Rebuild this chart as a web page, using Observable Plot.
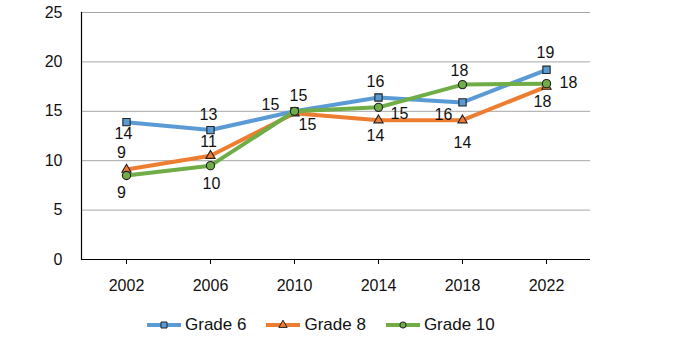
<!DOCTYPE html>
<html>
<head>
<meta charset="utf-8">
<script src="https://cdn.jsdelivr.net/npm/d3@7"></script>
<script src="https://cdn.jsdelivr.net/npm/@observablehq/plot@0.6"></script>
<style>
  body { margin: 0; background: #fff; font-family: "Liberation Sans", Arial, sans-serif; }
  #legend { display: flex; align-items: center; padding-left: 147px; margin-top: 14px; height: 22px; font-size: 17px; color: #111; }
  .item { display: flex; align-items: center; margin-right: 20px; }
  .item svg { margin-right: 4px; }
</style>
</head>
<body>
<div id="chart"></div>
<div id="legend"></div>
<script>
const years = ["2002", "2006", "2010", "2014", "2018", "2022"];
const seriesNames = ["Grade 6", "Grade 8", "Grade 10"];
const grade6 = [13.9, 13.1, 15.0, 16.4, 15.9, 19.2];
const grade8 = [9.1, 10.5, 14.8, 14.1, 14.1, 17.5];
const grade10 = [8.5, 9.5, 15.0, 15.4, 17.7, 17.8];
const labels6 = [14, 13, 15, 16, 16, 19];
const labels8 = [9, 11, 15, 14, 14, 18];
const labels10 = [9, 10, 15, 15, 18, 18];
const yTicks = [0, 5, 10, 15, 20, 25];

// label placement (style config, pixel offsets)
const offsets6 = [[-3, 12], [-2, -15], [-24, -6], [-3, -16], [-19, 12], [-1, -17]];
const offsets8 = [[-5, -17], [-2, -14], [13, 12], [-3, 16], [0, 23], [-4, 15]];
const offsets10 = [[-5, 17], [1, 18], [4, -15], [21, 7], [-3, -14], [22, -1]];

const colors = ["#5B9BD5", "#ED7D31", "#70AD47"];
const symbols = ["square", "triangle", "circle"];
const radii = [4.1, 3.4, 4.1];

const series = [
  {name: seriesNames[0], values: grade6, labels: labels6, offsets: offsets6},
  {name: seriesNames[1], values: grade8, labels: labels8, offsets: offsets8},
  {name: seriesNames[2], values: grade10, labels: labels10, offsets: offsets10}
];

const marks = [
  Plot.gridY(yTicks.filter(d => d > 0), {stroke: "#a6a6a6", strokeOpacity: 1, strokeWidth: 1}),
  Plot.ruleY([0], {stroke: "#000", strokeWidth: 1.2}),
  Plot.frame({anchor: "left", stroke: "#000", strokeWidth: 1.2}),
  Plot.axisX({tickSize: 5, tickPadding: 15, fontSize: 16, stroke: "#000", label: null}),
  Plot.axisY(yTicks, {tickSize: 0, tickPadding: 19, fontSize: 16, label: null})
];

series.forEach((s, i) => {
  const data = years.map((y, j) => ({year: y, value: s.values[j], label: s.labels[j]}));
  marks.push(Plot.line(data, {x: "year", y: "value", stroke: colors[i], strokeWidth: 4, strokeLinejoin: "round", strokeLinecap: "butt"}));
  marks.push(Plot.dot(data, {x: "year", y: "value", symbol: symbols[i], r: radii[i], fill: colors[i], stroke: "#222", strokeWidth: 1.1}));
});

series.forEach((s, i) => {
  years.forEach((y, j) => {
    marks.push(Plot.text([{year: y, value: s.values[j], label: s.labels[j]}], {
      x: "year", y: "value", text: "label",
      dx: s.offsets[j][0], dy: s.offsets[j][1],
      fontSize: 16, fill: "#111"
    }));
  });
});

const chart = Plot.plot({
  width: 678,
  height: 300,
  marginLeft: 81,
  marginRight: 88,
  marginTop: 12,
  marginBottom: 41,
  style: {fontFamily: "'Liberation Sans', Arial, sans-serif", fontSize: "16px", color: "#111", background: "#fff"},
  x: {type: "point", domain: years, padding: 0.5},
  y: {domain: [0, 25]},
  marks
});
document.getElementById("chart").append(chart);

// legend
const legend = d3.select("#legend");
seriesNames.forEach((name, i) => {
  const item = legend.append("div").attr("class", "item");
  const svg = item.append("svg").attr("width", 34).attr("height", 14);
  svg.append("line").attr("x1", 0).attr("x2", 34).attr("y1", 7).attr("y2", 7)
    .attr("stroke", colors[i]).attr("stroke-width", 4);
  const sym = d3.symbol().type([d3.symbolSquare, d3.symbolTriangle, d3.symbolCircle][i]).size([36, 30, 30][i]);
  svg.append("path").attr("d", sym()).attr("transform", "translate(17,7)")
    .attr("fill", colors[i]).attr("stroke", "#222").attr("stroke-width", 1);
  item.append("span").text(name);
});
</script>
</body>
</html>
